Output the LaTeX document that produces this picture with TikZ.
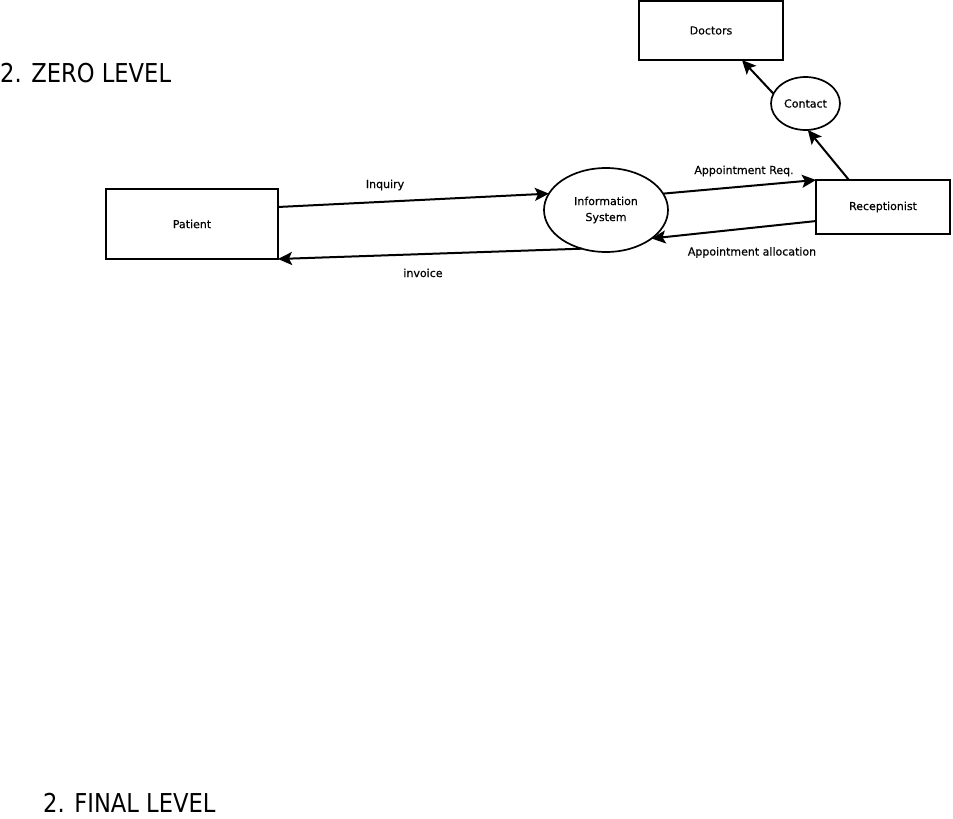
\documentclass[tikz,border=0pt]{standalone}
\usepackage{fontspec}
\setmainfont{DejaVu Sans}
\newfontfamily\headfont[FakeStretch=0.87]{DejaVu Sans}
\newfontfamily\smallfont[FakeBold=0.4]{DejaVu Sans}
\usetikzlibrary{arrows.meta,shapes.geometric,calc}
\begin{document}
\begin{tikzpicture}[x=1pt,y=-1pt,
  box/.style={draw,line width=2pt,rectangle,inner sep=0pt,outer sep=0pt,font=\smallfont\fontsize{11}{16}\selectfont},
  proc/.style={draw,line width=1.7pt,ellipse,inner sep=0pt,outer sep=0pt,font=\smallfont\fontsize{11}{16}\selectfont},
  flow/.style={line width=2pt,-{Stealth[length=14pt,width=13pt,inset=3pt]}},
  lbl/.style={inner sep=0pt,anchor=base,font=\smallfont\fontsize{11}{16}\selectfont},
  head/.style={inner sep=0pt,anchor=base west,font=\headfont\fontsize{26}{30}\selectfont}]
\useasboundingbox (0,0) rectangle (953,819);
\fill[white] (0,0) rectangle (953,819);

\node[box,minimum width=144pt,minimum height=59pt] (doctors) at (711,30.5) {Doctors};
\node[proc,minimum width=69pt,minimum height=53pt] (contact) at (805.5,103.5) {Contact};
\node[proc,minimum width=124pt,minimum height=84pt,align=center] (info) at (606,210) {Information\\System};
\node[box,minimum width=134pt,minimum height=54pt] (recep) at (883,207) {Receptionist};
\node[box,minimum width=172pt,minimum height=70pt] (patient) at (192,224) {Patient};

\draw[flow] ($(patient.north east)!0.257!(patient.south east)$) -- (info.164);
\draw[flow] (info.238) -- (patient.south east);
\draw[flow] (info.16) -- (recep.north west);
\draw[flow] ($(recep.north west)!0.76!(recep.south west)$) -- (info.-32);
\draw[flow] ($(recep.north west)!0.246!(recep.north east)$) -- (contact.-85);
\draw[flow] (contact.163) -- ($(doctors.south west)!0.715!(doctors.south east)$);

\node[lbl] (linq) at (385,188) {Inquiry};
\node[lbl] (linv) at (423,277) {invoice};
\node[lbl] (lreq) at (744,174) {Appointment Req.};
\node[lbl] (lall) at (752,255.5) {Appointment allocation};

\node[head] (h0) at (0,82) {2. ZERO LEVEL};
\node[head] (h1) at (43,812) {2. FINAL LEVEL};
\end{tikzpicture}
\end{document}
